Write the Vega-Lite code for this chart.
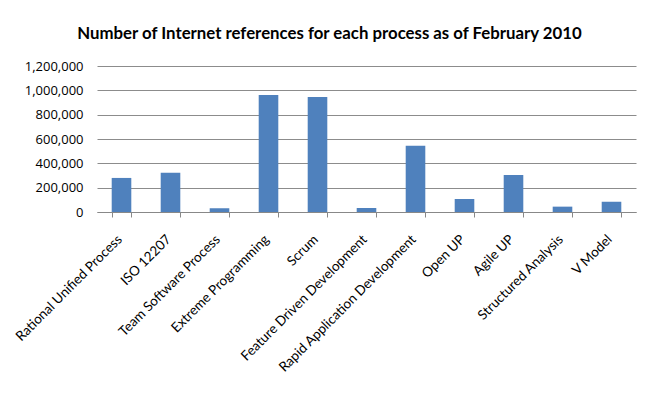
{
  "$schema": "https://vega.github.io/schema/vega-lite/v6.json",
  "autosize": {"type": "none"},
  "width": 539,
  "height": 146,
  "padding": {"left": 97, "top": 66, "right": 21, "bottom": 182},
  "background": "white",
  "title": {
    "text": "Number of Internet references for each process as of February 2010",
    "font": "Lato",
    "fontSize": 16.8,
    "fontWeight": "bold",
    "color": "#000000",
    "anchor": "middle",
    "dx": -37,
    "offset": 17
  },
  "data": {
    "values": [
      {"process": "Rational Unified Process", "refs": 280000},
      {"process": "ISO 12207", "refs": 322000},
      {"process": "Team Software Process", "refs": 30000},
      {"process": "Extreme Programming", "refs": 962000},
      {"process": "Scrum", "refs": 945000},
      {"process": "Feature Driven Development", "refs": 33000},
      {"process": "Rapid Application Development", "refs": 545000},
      {"process": "Open UP", "refs": 107000},
      {"process": "Agile UP", "refs": 304000},
      {"process": "Structured Analysis", "refs": 44000},
      {"process": "V Model", "refs": 85000}
    ]
  },
  "mark": {"type": "bar", "color": "#4F81BD"},
  "encoding": {
    "x": {
      "field": "process",
      "type": "nominal",
      "sort": null,
      "scale": {"paddingInner": 0.6, "paddingOuter": 0.3},
      "axis": {
        "title": null,
        "labelAngle": -45,
        "labelAlign": "right",
        "labelBaseline": "top",
        "labelPadding": 15,
        "labelOffset": -7,
        "labelFont": "Lato",
        "labelFontSize": 13.5,
        "labelColor": "#000000",
        "labelLimit": 300,
        "tickBand": "extent",
        "tickColor": "#888888",
        "tickSize": 5,
        "domainColor": "#888888",
        "grid": false
      }
    },
    "y": {
      "field": "refs",
      "type": "quantitative",
      "scale": {"domain": [0, 1200000]},
      "axis": {
        "title": null,
        "values": [0, 200000, 400000, 600000, 800000, 1000000, 1200000],
        "format": ",d",
        "labelFont": "Open Sans",
        "labelFontSize": 13,
        "labelColor": "#000000",
        "labelPadding": 14,
        "ticks": false,
        "domain": false,
        "grid": true,
        "gridColor": "#8c8c8c",
        "gridWidth": 1
      }
    }
  },
  "config": {"view": {"stroke": null}}
}
